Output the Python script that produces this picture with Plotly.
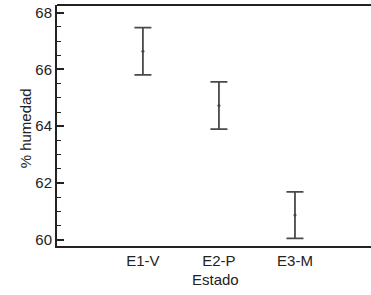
import plotly.graph_objects as go

categories = ["E1-V", "E2-P", "E3-M"]
means = [66.64, 64.73, 60.87]
errors = [0.83, 0.83, 0.82]
y_ticks = [60, 62, 64, 66, 68]

fig = go.Figure()
fig.add_trace(go.Scatter(
    x=list(range(len(categories))), y=means,
    mode="markers",
    marker=dict(size=3, color="#444444"),
    error_y=dict(type="data", array=errors, visible=True,
                 color="#4a4a4a", thickness=1.8, width=8.5),
    showlegend=False,
))

font = dict(family="Liberation Sans, Arial, sans-serif", size=15, color="#222222")

fig.update_layout(
    width=371, height=295,
    margin=dict(l=57, r=0, t=5, b=49, autoexpand=False),
    paper_bgcolor="white", plot_bgcolor="white",
    font=font,
    xaxis=dict(
        range=[-1.13, 3.0], automargin=False,
        tickmode="array", tickvals=list(range(len(categories))), ticktext=categories,
        showgrid=False, zeroline=False,
        showline=True, linecolor="#222222", linewidth=2, mirror=False,
        ticks="",
    ),
    yaxis=dict(
        range=[59.78, 68.27], automargin=False,
        tickmode="array", tickvals=y_ticks,
        showgrid=False, zeroline=False,
        showline=True, linecolor="#222222", linewidth=2,
        ticks="inside", ticklen=7, tickwidth=1.5, tickcolor="#222222",
        minor=dict(dtick=0.5, ticks="inside", ticklen=4, tickwidth=1.2, tickcolor="#222222"),
    ),
)
fig.add_shape(type="line", xref="paper", yref="paper", x0=0, x1=1, y0=1, y1=1,
              line=dict(color="#222222", width=2))
fig.add_annotation(text="Estado", xref="paper", yref="paper", x=0.506, y=-0.14,
                   xanchor="center", yanchor="middle", showarrow=False, font=font)
fig.add_annotation(text="% humedad", xref="paper", yref="paper", x=-0.102, y=0.488,
                   xanchor="center", yanchor="middle", textangle=-90, showarrow=False, font=font)

fig.write_html("out.html", config={"displayModeBar": False},
               post_script="document.body.style.margin='0';document.body.style.overflow='hidden';")
